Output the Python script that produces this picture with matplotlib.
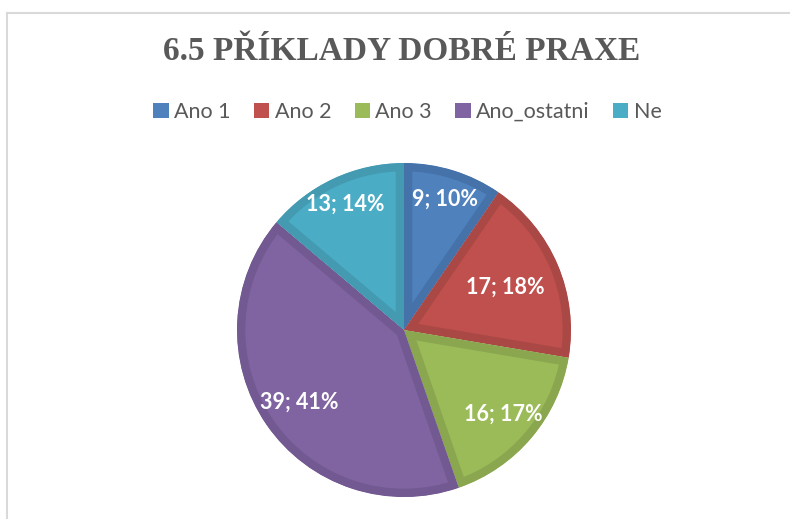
import matplotlib
matplotlib.use("Agg")
import matplotlib.pyplot as plt
from matplotlib.patches import Patch
from matplotlib.lines import Line2D
import numpy as np

categories = ["Ano 1", "Ano 2", "Ano 3", "Ano_ostatni", "Ne"]
values = [9, 17, 16, 39, 13]
percents = [10, 18, 17, 41, 14]
title = "6.5 PŘÍKLADY DOBRÉ PRAXE"

fills = ["#4F81BD", "#C0504D", "#9BBB59", "#8064A2", "#4BACC6"]
edges = ["#4672AA", "#AA4845", "#8AA74F", "#725991", "#439AB1"]
label_dist = [0.82, 0.66, 0.78, 0.76, 0.83]

W, H = 790, 519
fig = plt.figure(figsize=(W / 100, H / 100), dpi=100)
fig.patch.set_facecolor("white")

cx, cy, r = 404, 330, 167
ax = fig.add_axes([(cx - r) / W, (H - cy - r) / H, 2 * r / W, 2 * r / H])
wedges, _ = ax.pie(values, colors=fills, startangle=90, counterclock=False,
                   radius=1.0, wedgeprops=dict(linewidth=12, joinstyle="miter"))
for w, ec in zip(wedges, edges):
    w.set_edgecolor(ec)
    w.set_clip_on(True)
    w.set_clip_path(w)
ax.set_xlim(-1, 1)
ax.set_ylim(-1, 1)
ax.set_aspect("equal")
ax.axis("off")

for w, v, p, d in zip(wedges, values, percents, label_dist):
    ang = np.deg2rad((w.theta1 + w.theta2) / 2)
    ax.text(d * np.cos(ang), d * np.sin(ang), f"{v}; {p}%", ha="center", va="center",
            color="white", fontsize=15.5, fontweight="bold", family="Lato")

fig.text(402 / W, 1 - 52 / H, title, ha="center", va="center", fontsize=24,
         fontweight="bold", family="Liberation Serif", color="#595959")

handles = [Patch(facecolor=c, edgecolor="none") for c in fills]
fig.legend(handles, categories, loc="center", bbox_to_anchor=(407.5 / W, 1 - 112 / H),
           ncol=5, frameon=False, prop=dict(family="Lato", size=15.5),
           labelcolor="#595959", handlelength=0.7, handleheight=0.65,
           handletextpad=0.25, columnspacing=1.1)

fig.add_artist(Line2D([7 / W, 7 / W], [0, 1 - 13 / H], color="#D9D9D9", lw=1.5,
                      transform=fig.transFigure))
fig.add_artist(Line2D([7 / W, 1], [1 - 13 / H, 1 - 13 / H], color="#D9D9D9", lw=1.5,
                      transform=fig.transFigure))

fig.savefig("out.png", dpi=100)
